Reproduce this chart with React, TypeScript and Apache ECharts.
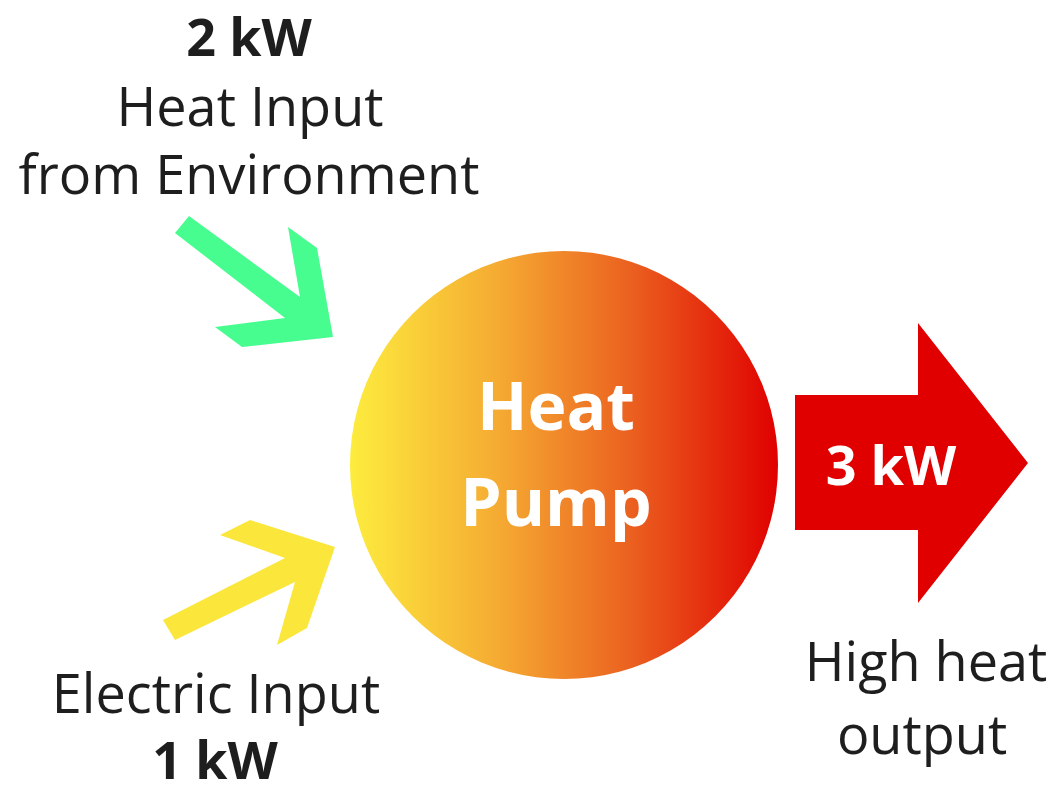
import React, { useEffect, useRef } from "react";
import * as echarts from "echarts";

const flowValues = [2, 1, 3];
const flowUnit = "kW";
const envLabel = ["Heat Input", "from Environment"];
const elecLabel = ["Electric Input"];
const outLabel = ["High heat", "output"];
const pumpLabel = ["Heat", "Pump"];

const FONT = "'Open Sans', 'Noto Sans', sans-serif";
const TEXT_COLOR = "#1e1e1e";

function txt(text: string, x: number, y: number, size: number, bold: boolean, color = TEXT_COLOR) {
  return {
    type: "text",
    x,
    y,
    style: {
      text,
      x: 0,
      y: 0,
      fill: color,
      font: `${bold ? "bold " : ""}${size}px ${FONT}`,
      textAlign: "center",
      textVerticalAlign: "middle",
    },
  };
}

export default function App() {
  const ref = useRef<HTMLDivElement>(null);
  useEffect(() => {
    if (!ref.current) return;
    const chart = echarts.init(ref.current, null, { renderer: "svg" });
    const fmt = (v: number) => `${v} ${flowUnit}`;
    chart.setOption({
      animation: false,
      backgroundColor: "#ffffff",
      graphic: [
        // green arrow (environment heat)
        {
          type: "polygon",
          shape: {
            points: [
              [189, 216], [300, 297], [288, 227], [317, 248], [333, 337],
              [242, 347], [215, 327], [285, 318], [175, 233],
            ],
          },
          style: { fill: "#48fd8f" },
        },
        // yellow arrow (electric input)
        {
          type: "polygon",
          shape: {
            points: [
              [163, 620], [285, 558], [220, 535], [250, 520], [335, 547],
              [307, 628], [277, 645], [295, 582], [175, 640],
            ],
          },
          style: { fill: "#fbe63b" },
        },
        // red output arrow
        {
          type: "polygon",
          shape: {
            points: [
              [795, 395], [918, 395], [918, 323], [1028, 463], [918, 603], [918, 530], [795, 530],
            ],
          },
          style: { fill: "#e00000" },
        },
        // heat pump circle
        {
          type: "circle",
          shape: { cx: 564, cy: 465, r: 214 },
          style: {
            fill: new echarts.graphic.LinearGradient(0, 0, 1, 0, [
              { offset: 0, color: "#fdec3e" },
              { offset: 0.35, color: "#f5aa32" },
              { offset: 0.65, color: "#eb6220" },
              { offset: 1, color: "#e00000" },
            ]),
          },
        },
        txt(pumpLabel[0], 556, 404, 66, true, "#ffffff"),
        txt(pumpLabel[1], 556, 500, 66, true, "#ffffff"),
        txt(fmt(flowValues[2]), 891, 464, 54, true, "#ffffff"),
        txt(fmt(flowValues[0]), 249, 35, 52, true),
        txt(envLabel[0], 250, 105, 54, false),
        txt(envLabel[1], 249, 173, 54, false),
        txt(elecLabel[0], 216, 692, 54, false),
        txt(fmt(flowValues[1]), 215, 758, 52, true),
        txt(outLabel[0], 926, 660, 54, false),
        txt(outLabel[1], 922, 733, 54, false),
      ],
    });
    return () => chart.dispose();
  }, []);
  return (
    <div
      ref={ref}
      style={{ position: "fixed", left: 0, top: 0, width: 1056, height: 794 }}
    />
  );
}
